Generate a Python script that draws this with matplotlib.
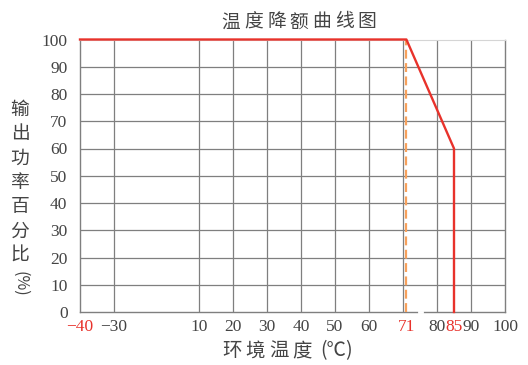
import numpy as np
import matplotlib
matplotlib.use("Agg")
import matplotlib.pyplot as plt

# derating curve data
temp = [-40, 71, 85, 85]
power = [100, 100, 60, 0]
knee_temp = 71

xticks = [-40, -30, 10, 20, 30, 40, 50, 60, 71, 80, 85, 90, 100]
red_ticks = [-40, 71, 85]
xgrid = [-30, 10, 20, 30, 40, 50, 60, 70, 80, 90]
yticks = [0, 10, 20, 30, 40, 50, 60, 70, 80, 90, 100]

title_chars = list("温度降额曲线图")
xlabel_chars = ["环", "境", "温", "度", "(℃)"]
ylabel_chars = list("输出功率百分比")

CJK = ["Noto Sans CJK SC", "DejaVu Sans"]
NUM = "Liberation Serif"
GRAY = "#7f7f7f"
TXT = "#444444"
RED = "#e8322b"
ORANGE = "#f7a15c"

# compressed span between -30 and 10
def fwd(x):
    return np.interp(x, [-40, -30, 10, 100], [-40, -30, -5, 85])

def inv(x):
    return np.interp(x, [-40, -30, -5, 85], [-40, -30, 10, 100])

fig = plt.figure(figsize=(5.28, 3.65), dpi=100)
ax = fig.add_axes([80/528, 1-312/365, 425/528, (312-39.5)/365])
ax.set_xscale("function", functions=(fwd, inv))
ax.set_xlim(-40, 100)
ax.set_ylim(0, 100)

for g in xgrid:
    ax.axvline(g, color=GRAY, lw=0.9, zorder=1)
for g in yticks[1:-1]:
    ax.axhline(g, color=GRAY, lw=0.9, zorder=1)

for s in ["left", "bottom", "right"]:
    ax.spines[s].set_color(GRAY)
    ax.spines[s].set_linewidth(1.0)
ax.spines["top"].set_color("#d5d5d5")

ax.plot([knee_temp, knee_temp], [0, 100], color=ORANGE, lw=1.6,
        dashes=(4, 2), zorder=3)
ax.plot(temp, power, color=RED, lw=1.7, zorder=4, clip_on=False)

# little break in the bottom axis
ax.plot([74.7, 75.7], [0, 0], color="white", lw=2, zorder=5, clip_on=False)

ax.set_xticks(xticks)
ax.set_xticklabels([str(t).replace("-", "\u2212") for t in xticks],
                   family=NUM, fontsize=12.5)
ax.set_yticks(yticks)
ax.set_yticklabels([str(t) for t in yticks], family=NUM, fontsize=12.5)
ax.tick_params(length=0, colors=TXT)
ax.tick_params(axis="x", pad=5)
ax.tick_params(axis="y", pad=9)
for lab, t in zip(ax.get_xticklabels(), xticks):
    if t in red_ticks:
        lab.set_color(RED)
ax.minorticks_off()

def fig_text(px, py, s, size, rot=0):
    fig.text(px/528, 1-py/365, s, family=CJK, fontsize=size, color=TXT,
             ha="center", va="center", rotation=rot)

for i, c in enumerate(title_chars):
    fig_text(231 + i*22.7, 22, c, 13.5)

for i, c in enumerate(xlabel_chars[:4]):
    fig_text(232 + i*23.3, 351, c, 14)
fig_text(337, 351, xlabel_chars[4], 14)

for i, c in enumerate(ylabel_chars):
    fig_text(20, 109 + i*24.4, c, 13.5)
fig_text(20, 284, "(%)", 11.5, rot=-90)

fig.savefig("out.png", dpi=100)
